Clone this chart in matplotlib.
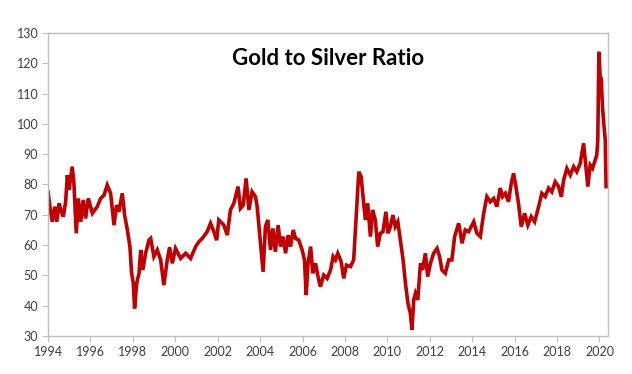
import matplotlib
matplotlib.use("Agg")
import matplotlib.pyplot as plt

# Gold / silver ratio
years = [
    1994.0, 1994.09, 1994.2, 1994.32, 1994.41, 1994.52, 1994.63, 1994.72, 1994.83, 1994.91,
    1994.99, 1995.14, 1995.22, 1995.33, 1995.43, 1995.54, 1995.66, 1995.77, 1995.9, 1996.09,
    1996.32, 1996.48, 1996.64, 1996.79, 1996.95, 1997.11, 1997.23, 1997.34, 1997.5, 1997.61,
    1997.74, 1997.86, 1997.94, 1998.02, 1998.08, 1998.18, 1998.29, 1998.37, 1998.47, 1998.6,
    1998.76, 1998.84, 1998.99, 1999.15, 1999.31, 1999.46, 1999.62, 1999.73, 1999.86, 2000.01,
    2000.25, 2000.49, 2000.72, 2000.96, 2001.11, 2001.27, 2001.5, 2001.66, 2001.82, 2001.95,
    2002.05, 2002.29, 2002.45, 2002.6, 2002.76, 2002.96, 2003.07, 2003.2, 2003.34, 2003.47,
    2003.62, 2003.78, 2003.86, 2004.02, 2004.14, 2004.25, 2004.36, 2004.49, 2004.6, 2004.72,
    2004.85, 2004.96, 2005.08, 2005.2, 2005.32, 2005.43, 2005.56, 2005.67, 2005.82, 2005.98,
    2006.09, 2006.17, 2006.26, 2006.38, 2006.48, 2006.61, 2006.73, 2006.84, 2007.0, 2007.16,
    2007.32, 2007.44, 2007.55, 2007.66, 2007.82, 2007.94, 2008.07, 2008.26, 2008.41, 2008.57,
    2008.65, 2008.76, 2008.85, 2008.96, 2009.07, 2009.2, 2009.3, 2009.43, 2009.54, 2009.67,
    2009.79, 2009.93, 2010.03, 2010.14, 2010.26, 2010.37, 2010.49, 2010.61, 2010.74, 2010.85,
    2010.97, 2011.08, 2011.16, 2011.24, 2011.32, 2011.43, 2011.56, 2011.66, 2011.79, 2011.9,
    2012.03, 2012.18, 2012.34, 2012.46, 2012.57, 2012.73, 2012.89, 2013.04, 2013.17, 2013.36,
    2013.52, 2013.67, 2013.83, 2014.07, 2014.22, 2014.38, 2014.54, 2014.69, 2014.85, 2015.01,
    2015.16, 2015.32, 2015.43, 2015.56, 2015.71, 2015.84, 2015.95, 2016.06, 2016.18, 2016.31,
    2016.47, 2016.62, 2016.78, 2016.94, 2017.13, 2017.28, 2017.44, 2017.6, 2017.75, 2017.91,
    2018.07, 2018.2, 2018.31, 2018.46, 2018.62, 2018.78, 2018.93, 2019.09, 2019.25, 2019.36,
    2019.45, 2019.56, 2019.67, 2019.8, 2019.87, 2019.92, 2019.97, 2020.03, 2020.08, 2020.14,
    2020.2, 2020.27, 2020.31,
]
ratio = [
    77.6, 72.7, 67.7, 72.7, 67.7, 73.8, 71.0, 69.4, 74.3, 83.1,
    78.2, 85.9, 80.4, 63.9, 75.4, 67.7, 74.9, 68.8, 75.4, 70.5,
    72.7, 75.4, 76.5, 79.8, 77.1, 66.6, 73.2, 71.0, 77.1, 69.9,
    65.0, 59.5, 50.7, 47.4, 39.1, 47.4, 50.7, 58.4, 51.8, 57.3,
    61.7, 62.2, 56.2, 58.4, 55.1, 46.8, 55.1, 59.3, 54.0, 58.9,
    55.6, 57.3, 55.6, 59.5, 61.1, 62.2, 64.4, 67.2, 64.4, 61.6,
    68.3, 66.6, 63.3, 71.6, 73.8, 79.3, 72.1, 73.2, 82.0, 71.6,
    77.6, 76.0, 72.7, 60.6, 51.2, 66.1, 68.3, 58.4, 65.5, 57.8,
    66.6, 59.5, 62.8, 57.3, 63.3, 59.5, 65.0, 62.2, 61.7, 58.4,
    55.1, 43.5, 54.0, 59.5, 50.7, 54.0, 49.6, 46.3, 50.1, 49.0,
    51.8, 56.2, 55.1, 57.3, 54.5, 49.0, 53.4, 52.9, 55.1, 74.9,
    84.2, 82.6, 76.0, 68.3, 73.8, 62.8, 71.6, 68.3, 59.5, 63.9,
    64.4, 71.0, 63.9, 66.1, 69.9, 66.1, 67.7, 61.7, 55.1, 47.4,
    40.8, 37.5, 32.0, 41.9, 44.1, 41.9, 54.0, 51.8, 57.3, 49.6,
    54.0, 57.3, 58.9, 56.2, 51.8, 50.7, 55.1, 55.1, 62.8, 67.2,
    60.6, 65.0, 64.4, 67.7, 63.9, 62.8, 70.5, 76.0, 74.3, 75.4,
    72.7, 78.8, 76.0, 77.1, 74.3, 80.4, 83.7, 79.3, 73.8, 66.1,
    70.5, 66.6, 69.4, 67.7, 72.7, 77.1, 76.0, 78.8, 77.6, 80.9,
    79.3, 76.0, 81.5, 85.3, 83.1, 85.9, 84.2, 87.0, 93.6, 85.9,
    79.3, 86.4, 85.3, 88.1, 89.7, 94.7, 123.8, 115.6, 115.0, 105.7,
    100.2, 94.7, 79.3,
]

x_ticks = list(range(1994, 2021, 2))
y_ticks = list(range(30, 131, 10))

fig = plt.figure(figsize=(6.32, 3.74), dpi=100)
ax = fig.add_axes([0.076, 0.1016, 0.886, 0.8102])

ax.plot(years, ratio, color="#C00000", linewidth=2.6, solid_joinstyle="miter")

ax.set_xlim(1994, 2020.4)
ax.set_ylim(30, 130)
ax.set_xticks(x_ticks)
ax.set_yticks(y_ticks)

grey = "#BFBFBF"
for side in ["left", "right", "top", "bottom"]:
    ax.spines[side].set_color(grey)
    ax.spines[side].set_linewidth(1.0)
ax.tick_params(axis="both", direction="out", length=4, color=grey,
               labelsize=9, labelcolor="#404040", pad=3)
for lbl in ax.get_xticklabels() + ax.get_yticklabels():
    lbl.set_family("Lato")

ax.text(0.5, 0.917, "Gold to Silver Ratio", transform=ax.transAxes,
        ha="center", va="center", fontsize=16, fontweight="bold",
        family="Lato", color="black")

fig.savefig("out.png", dpi=100)
